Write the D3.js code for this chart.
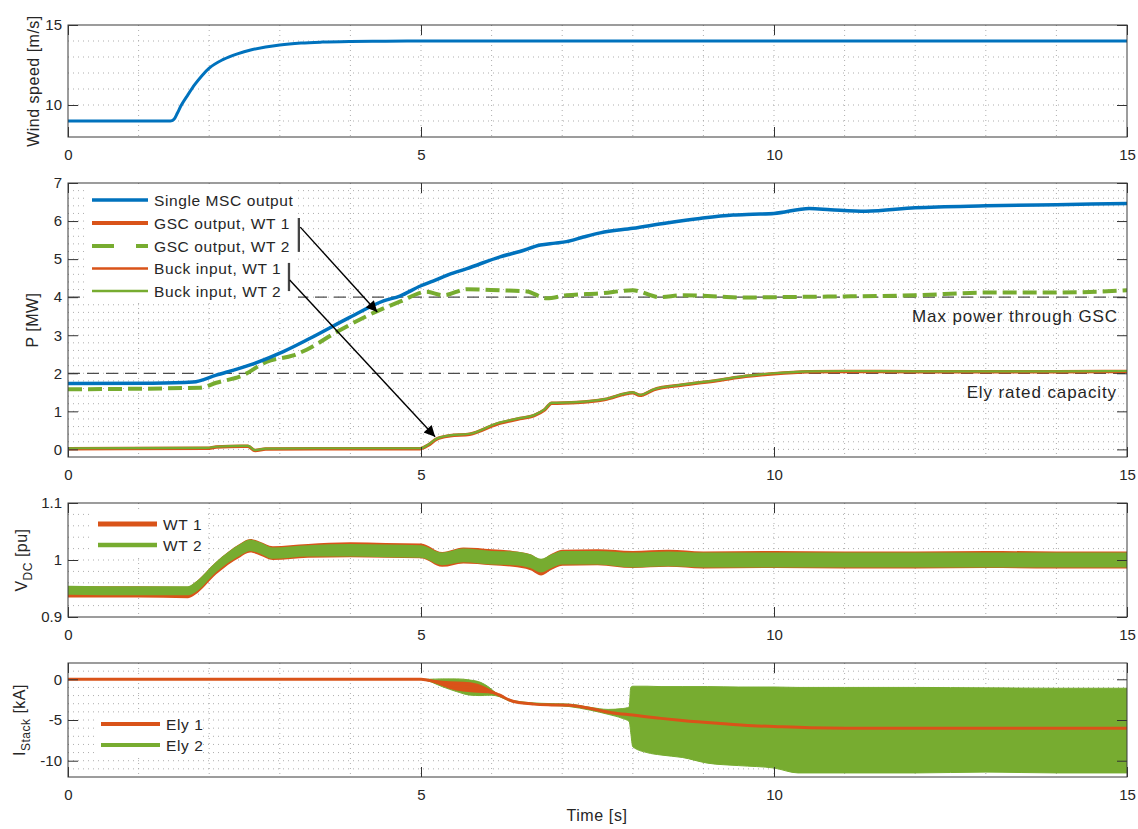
<!DOCTYPE html>
<html lang="en">
<head>
<meta charset="UTF-8">
<title>Wind turbine / electrolyser response</title>
<script src="https://cdn.jsdelivr.net/npm/d3@7"></script>
<style>
  body { margin: 0; background: #fff; }
  text { font-family: "Liberation Sans", Arial, Helvetica, sans-serif; fill: #262626; }
</style>
</head>
<body>
<svg id="chart" width="1138" height="829"></svg>
<script>
// ---- data ----
const xTicks = [0, 5, 10, 15];
const xTickLabels = ["0", "5", "10", "15"];

// wind speed [m/s]
const windT = [0, 1.45, 1.5, 1.55, 1.6, 1.7, 1.8, 1.9, 2.0, 2.2, 2.4, 2.6, 2.8, 3.0, 3.3, 3.6, 4.0, 4.5, 5.0, 15];
const windV = [9, 9, 9.1, 9.5, 9.95, 10.65, 11.3, 11.85, 12.3, 12.85, 13.2, 13.45, 13.62, 13.75, 13.87, 13.93, 13.97, 13.99, 14.0, 14.0];
const windTicks = [10, 15];
const windTickLabels = ["10", "15"];

// power [MW]
const mscT = [0, 1.2, 1.77, 2.1, 2.58, 3.05, 3.43, 3.99, 4.47, 4.7, 5.0, 5.17, 5.4, 5.65, 6.12, 6.4, 6.69, 6.9, 7.06, 7.3, 7.54, 8.0, 8.48, 8.95, 9.42, 9.7, 10.0, 10.5, 10.8, 11.3, 12, 13, 14, 15];
const mscP = [1.73, 1.74, 1.77, 1.95, 2.22, 2.57, 2.92, 3.47, 3.9, 4.03, 4.3, 4.42, 4.6, 4.75, 5.06, 5.2, 5.37, 5.42, 5.46, 5.58, 5.69, 5.81, 5.95, 6.07, 6.16, 6.18, 6.2, 6.33, 6.3, 6.26, 6.35, 6.4, 6.43, 6.46];
const gscT = [0, 1.87, 2.1, 2.48, 2.81, 3.19, 3.38, 3.81, 4.46, 4.7, 5.08, 5.32, 5.65, 6.12, 6.5, 6.78, 7.06, 7.54, 8.0, 8.38, 8.7, 9.19, 9.56, 10, 11, 12, 13, 14, 15];
const gsc2P = [1.58, 1.62, 1.75, 1.95, 2.3, 2.47, 2.62, 3.09, 3.7, 3.88, 4.14, 4.05, 4.21, 4.18, 4.15, 3.97, 4.05, 4.1, 4.18, 4.0, 4.05, 4.02, 3.99, 4.0, 4.02, 4.05, 4.12, 4.12, 4.18];
const buckT = [0, 1.97, 2.1, 2.46, 2.55, 2.65, 2.8, 3.5, 4.99, 5.1, 5.22, 5.41, 5.69, 6.07, 6.4, 6.6, 6.75, 6.85, 7.2, 7.6, 8.0, 8.1, 8.3, 8.7, 9.2, 9.6, 10.0, 10.5, 11, 12, 13, 14, 15];
const buck1P = [0.02, 0.03, 0.06, 0.08, 0.08, -0.03, 0.01, 0.02, 0.02, 0.11, 0.27, 0.36, 0.4, 0.66, 0.81, 0.89, 1.04, 1.21, 1.23, 1.31, 1.49, 1.42, 1.57, 1.69, 1.81, 1.92, 1.99, 2.04, 2.05, 2.04, 2.04, 2.04, 2.05];
const buck2P = [0.03, 0.04, 0.07, 0.09, 0.09, -0.02, 0.02, 0.03, 0.03, 0.12, 0.28, 0.37, 0.41, 0.68, 0.82, 0.9, 1.05, 1.22, 1.24, 1.32, 1.5, 1.43, 1.58, 1.7, 1.82, 1.93, 2.0, 2.05, 2.06, 2.05, 2.05, 2.05, 2.06];
const pTicks = [0, 1, 2, 3, 4, 5, 6, 7];
const pTickLabels = ["0", "1", "2", "3", "4", "5", "6", "7"];
const gscLimit = 4;
const elyRated = 2;

// DC voltage [pu], centre of the noisy band and its half spread
const vdcT = [0, 1.0, 1.7, 1.8, 2.1, 2.44, 2.58, 2.72, 2.9, 3.4, 4.0, 4.5, 5.0, 5.3, 5.6, 6.0, 6.3, 6.55, 6.7, 6.85, 7.0, 7.5, 8.0, 8.5, 9.0, 10, 11, 12, 13, 14, 15];
const vdc1 = [0.944, 0.944, 0.943, 0.95, 0.986, 1.017, 1.025, 1.02, 1.012, 1.016, 1.018, 1.017, 1.016, 1.001, 1.008, 1.005, 1.002, 0.996, 0.987, 0.997, 1.004, 1.005, 1.001, 1.003, 1.0, 1.001, 1.0, 1.0, 1.001, 1.0, 1.0];
const vdc2 = [0.947, 0.946, 0.946, 0.952, 0.988, 1.018, 1.026, 1.021, 1.012, 1.016, 1.017, 1.016, 1.015, 1.002, 1.008, 1.004, 1.003, 0.998, 0.99, 0.998, 1.004, 1.004, 1.0, 1.002, 1.0, 1.0, 1.0, 1.0, 1.0, 1.0, 1.0];
const vdcSpread = [0.008, 0.008, 0.008, 0.009, 0.009, 0.01, 0.01, 0.01, 0.01, 0.01, 0.011, 0.011, 0.011, 0.011, 0.012, 0.012, 0.012, 0.012, 0.012, 0.012, 0.012, 0.012, 0.013, 0.013, 0.013, 0.013, 0.013, 0.013, 0.013, 0.013, 0.013];
const vdcTicks = [0.9, 1, 1.1];
const vdcTickLabels = ["0.9", "1", "1.1"];

// stack current [kA]
const ely1T = [0, 5.0, 5.2, 5.4, 5.6, 5.8, 5.95, 6.1, 6.3, 6.6, 6.85, 7.1, 7.4, 7.7, 8.0, 8.4, 8.7, 9.2, 9.7, 10.0, 10.5, 11, 12, 13, 14, 15];
const ely1I = [0, 0, -0.3, -0.7, -0.9, -1.1, -1.4, -1.9, -2.7, -3.05, -3.15, -3.2, -3.6, -4.1, -4.4, -4.8, -5.05, -5.4, -5.7, -5.8, -5.95, -6.0, -6.0, -6.0, -6.0, -6.0];
const ely1Spread = [0, 0, 0.2, 0.45, 0.6, 0.55, 0.3, 0.05, 0, 0, 0, 0, 0, 0, 0, 0, 0, 0, 0, 0, 0, 0, 0, 0, 0, 0];
const ely2T = [0, 5.0, 5.1, 5.3, 5.5, 5.7, 5.85, 5.95, 6.05, 6.3, 6.7, 7.1, 7.4, 7.65, 7.85, 7.95, 7.97, 8.0, 8.2, 8.4, 8.7, 9.06, 9.5, 10.0, 10.34, 11, 12, 13, 14, 15];
const ely2Hi = [0, 0, 0, 0.05, 0.05, -0.1, -0.4, -0.9, -1.6, -2.6, -2.95, -3.05, -3.45, -3.7, -3.6, -3.4, -1.0, -0.85, -0.85, -0.9, -0.9, -0.9, -0.95, -0.95, -1.0, -1.0, -1.0, -1.05, -1.1, -1.1];
const ely2Lo = [0, 0, -0.2, -0.9, -1.5, -1.95, -2.0, -1.95, -2.0, -2.8, -3.15, -3.35, -3.8, -4.3, -4.8, -5.2, -6.5, -8.3, -9.0, -9.3, -9.6, -10.3, -10.6, -10.9, -11.5, -11.5, -11.5, -11.4, -11.5, -11.5];
const iTicks = [-10, -5, 0];
const iTickLabels = ["-10", "-5", "0"];

// ---- layout ----
const blue = "#0072BD", orange = "#D95319", green = "#77AC30";
const svg = d3.select("#chart");
const x = d3.scaleLinear().domain([0, 15]).range([68, 1127]);

function zip(ts, vs) { return ts.map((t, i) => [t, vs[i]]); }

function setupPanel(id, top, bottom, dom, ticks, labels, minor) {
  const y = d3.scaleLinear().domain(dom).range([bottom, top]);
  const g = svg.append("g");

  g.append("clipPath").attr("id", "clip" + id)
    .append("rect").attr("x", x(0)).attr("y", top).attr("width", x(15) - x(0)).attr("height", bottom - top);

  // dotted grid (major + minor)
  const grid = g.append("g").attr("stroke", "#9a9a9a").attr("stroke-width", 1)
    .attr("stroke-dasharray", "1,4").attr("opacity", 0.8);
  grid.selectAll("line.v").data(d3.range(1, 15)).join("line")
    .attr("x1", d => x(d)).attr("x2", d => x(d)).attr("y1", top).attr("y2", bottom);
  const n = Math.round((dom[1] - dom[0]) / minor);
  grid.selectAll("line.h").data(d3.range(1, n)).join("line")
    .attr("x1", x(0)).attr("x2", x(15))
    .attr("y1", i => y(dom[0] + i * minor)).attr("y2", i => y(dom[0] + i * minor));

  const plot = g.append("g").attr("clip-path", `url(#clip${id})`);
  const over = g.append("g");

  // axes: inward ticks on all four sides
  const style = a => {
    a.select(".domain").remove();
    a.attr("color", "#333").attr("font-size", 15).attr("font-family", '"Liberation Sans", Arial, sans-serif');
  };
  g.append("g").attr("transform", `translate(0,${bottom})`)
    .call(d3.axisBottom(x).tickValues(xTicks).tickFormat((d, i) => xTickLabels[i]).tickSizeInner(-10).tickSizeOuter(0).tickPadding(12))
    .call(style);
  g.append("g").attr("transform", `translate(0,${top})`)
    .call(d3.axisTop(x).tickValues(xTicks).tickFormat("").tickSizeInner(-10).tickSizeOuter(0))
    .call(style);
  g.append("g").attr("transform", `translate(${x(0)},0)`)
    .call(d3.axisLeft(y).tickValues(ticks).tickFormat((d, i) => labels[i]).tickSizeInner(-10).tickSizeOuter(0).tickPadding(6))
    .call(style);
  g.append("g").attr("transform", `translate(${x(15)},0)`)
    .call(d3.axisRight(y).tickValues(ticks).tickFormat("").tickSizeInner(-10).tickSizeOuter(0))
    .call(style);

  g.append("rect").attr("x", x(0)).attr("y", top).attr("width", x(15) - x(0)).attr("height", bottom - top)
    .attr("fill", "none").attr("stroke", "#3a3a3a").attr("stroke-width", 1);

  return { y, plot, over };
}

function yLabel(xb, yc, parts) {
  const t = svg.append("text").attr("transform", `translate(${xb},${yc}) rotate(-90)`)
    .attr("text-anchor", "middle").attr("font-size", 16).attr("letter-spacing", "0.5px");
  parts.forEach(p => {
    const s = t.append("tspan").text(p.s);
    if (p.sub) s.attr("font-size", 12).attr("dy", 5);
    if (p.up) s.attr("dy", -5);
  });
}

function legend(layer, x0, rows, boxW, boxH, boxY) {
  layer.append("rect").attr("x", x0 - 6).attr("y", boxY).attr("width", boxW).attr("height", boxH).attr("fill", "#fff");
  rows.forEach(r => {
    const l = layer.append("line").attr("x1", x0).attr("x2", x0 + r.len).attr("y1", r.y).attr("y2", r.y)
      .attr("stroke", r.color).attr("stroke-width", r.w);
    if (r.dash) l.attr("stroke-dasharray", r.dash);
    layer.append("text").attr("x", x0 + r.len + 6).attr("y", r.y + 5.5)
      .attr("font-size", 15.5).attr("letter-spacing", "0.6px").text(r.label);
  });
}

const lineGen = y => d3.line().x(d => x(d[0])).y(d => y(d[1])).curve(d3.curveMonotoneX);
const bandGen = y => d3.area().x(d => x(d[0])).y0(d => y(d[1])).y1(d => y(d[2])).curve(d3.curveMonotoneX);

// ---- panel 1: wind speed ----
const p1 = setupPanel(1, 25, 137, [8, 15], windTicks, windTickLabels, 1);
p1.plot.append("path").datum(zip(windT, windV)).attr("d", lineGen(p1.y))
  .attr("fill", "none").attr("stroke", blue).attr("stroke-width", 3);
yLabel(39, 81, [{ s: "Wind speed [m/s]" }]);

// ---- panel 2: power ----
const p2 = setupPanel(2, 183, 457, [-0.2, 7], pTicks, pTickLabels, 0.2);
[gscLimit, elyRated].forEach(v => {
  p2.plot.append("line").attr("x1", x(0)).attr("x2", x(15)).attr("y1", p2.y(v)).attr("y2", p2.y(v))
    .attr("stroke", "#4d4d4d").attr("stroke-width", 1.3).attr("stroke-dasharray", "12,7");
});
p2.plot.append("path").datum(zip(buckT, buck1P)).attr("d", lineGen(p2.y))
  .attr("fill", "none").attr("stroke", orange).attr("stroke-width", 3.5);
p2.plot.append("path").datum(zip(buckT, buck2P)).attr("d", lineGen(p2.y))
  .attr("fill", "none").attr("stroke", green).attr("stroke-width", 2.2);
p2.plot.append("path").datum(zip(gscT, gsc2P)).attr("d", lineGen(p2.y))
  .attr("fill", "none").attr("stroke", green).attr("stroke-width", 4).attr("stroke-dasharray", "14,6");
p2.plot.append("path").datum(zip(mscT, mscP)).attr("d", lineGen(p2.y))
  .attr("fill", "none").attr("stroke", blue).attr("stroke-width", 3.5);

legend(p2.over, 92, [
  { y: 200, len: 56, color: blue, w: 3.5, label: "Single MSC output" },
  { y: 223, len: 56, color: orange, w: 4, label: "GSC output, WT 1" },
  { y: 246, len: 56, color: green, w: 4, dash: "22,22", label: "GSC output, WT 2" },
  { y: 268.5, len: 56, color: orange, w: 2.7, label: "Buck input, WT 1" },
  { y: 291, len: 56, color: green, w: 2.7, label: "Buck input, WT 2" }
], 212, 118, 184);

// brackets and arrows (annotation positions in data units)
const brackets = [{ t: 3.27, p0: 6.08, p1: 5.19 }, { t: 3.13, p0: 4.9, p1: 4.16 }];
const arrows = [{ t0: 3.29, p0: 5.84, t1: 4.38, p1: 3.61 }, { t0: 3.14, p0: 4.45, t1: 5.2, p1: 0.33 }];
svg.append("defs").append("marker").attr("id", "head").attr("viewBox", "0 0 10 10")
  .attr("refX", 10).attr("refY", 5).attr("markerWidth", 15).attr("markerHeight", 11)
  .attr("markerUnits", "userSpaceOnUse").attr("orient", "auto")
  .append("path").attr("d", "M0,0L10,5L0,10Z").attr("fill", "#000");
brackets.forEach(b => {
  p2.over.append("line").attr("x1", x(b.t)).attr("x2", x(b.t)).attr("y1", p2.y(b.p0)).attr("y2", p2.y(b.p1))
    .attr("stroke", "#444").attr("stroke-width", 2.3);
});
arrows.forEach(a => {
  p2.over.append("line").attr("x1", x(a.t0)).attr("y1", p2.y(a.p0)).attr("x2", x(a.t1)).attr("y2", p2.y(a.p1))
    .attr("stroke", "#000").attr("stroke-width", 1.4).attr("marker-end", "url(#head)");
});
p2.over.append("text").attr("x", 1118).attr("y", p2.y(gscLimit) + 25).attr("text-anchor", "end")
  .attr("font-size", 17).attr("letter-spacing", "0.9px").text("Max power through GSC");
p2.over.append("text").attr("x", 1117).attr("y", p2.y(elyRated) + 25).attr("text-anchor", "end")
  .attr("font-size", 17).attr("letter-spacing", "0.9px").text("Ely rated capacity");
yLabel(38, 320, [{ s: "P [MW]" }]);

// ---- panel 3: DC voltage ----
const p3 = setupPanel(3, 503, 617, [0.9, 1.1], vdcTicks, vdcTickLabels, 0.02);
p3.plot.append("path").datum(vdcT.map((t, i) => [t, vdc1[i] - vdcSpread[i] - 0.002, vdc1[i] + vdcSpread[i] + 0.002]))
  .attr("d", bandGen(p3.y)).attr("fill", orange);
p3.plot.append("path").datum(vdcT.map((t, i) => [t, vdc2[i] - vdcSpread[i], vdc2[i] + vdcSpread[i]]))
  .attr("d", bandGen(p3.y)).attr("fill", green);
legend(p3.over, 98, [
  { y: 524, len: 59, color: orange, w: 5, label: "WT 1" },
  { y: 545, len: 59, color: green, w: 4.5, label: "WT 2" }
], 116, 46, 509);
yLabel(27, 560, [{ s: "V" }, { s: "DC", sub: true }, { s: " [pu]", up: true }]);

// ---- panel 4: stack current ----
const p4 = setupPanel(4, 663, 777, [-12, 2], iTicks, iTickLabels, 1);
p4.plot.append("path").datum(ely2T.map((t, i) => [t, ely2Lo[i], ely2Hi[i]]))
  .attr("d", bandGen(p4.y)).attr("fill", green).attr("stroke", green).attr("stroke-width", 1);
p4.plot.append("path").datum(ely1T.map((t, i) => [t, ely1I[i] - ely1Spread[i], ely1I[i] + ely1Spread[i]]))
  .attr("d", bandGen(p4.y)).attr("fill", orange);
p4.plot.append("path").datum(zip(ely1T, ely1I)).attr("d", lineGen(p4.y))
  .attr("fill", "none").attr("stroke", orange).attr("stroke-width", 3);
legend(p4.over, 101, [
  { y: 724, len: 59, color: orange, w: 4, label: "Ely 1" },
  { y: 745, len: 59, color: green, w: 4, label: "Ely 2" }
], 106, 44, 713);
yLabel(25, 720, [{ s: "I" }, { s: "Stack", sub: true }, { s: " [kA]", up: true }]);

svg.append("text").attr("x", 597).attr("y", 821).attr("text-anchor", "middle")
  .attr("font-size", 16).attr("letter-spacing", "0.6px").text("Time [s]");
</script>
</body>
</html>
